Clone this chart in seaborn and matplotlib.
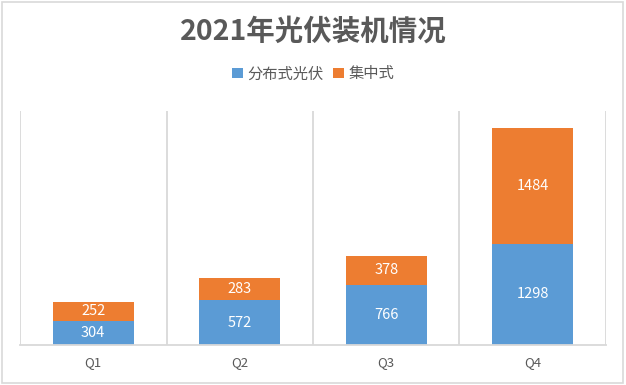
import matplotlib
matplotlib.use("Agg")
import matplotlib.pyplot as plt
import seaborn as sns
import pandas as pd
from matplotlib.patches import Rectangle

quarters = ["Q1", "Q2", "Q3", "Q4"]
distributed = [304, 572, 766, 1298]
centralized = [252, 283, 378, 1484]
series_names = ["分布式光伏", "集中式"]
title = "2021年光伏装机情况"

sns.set_theme(style="white")
plt.rcParams['font.family'] = ['Noto Sans CJK SC', 'DejaVu Sans']

blue = "#5B9BD5"
orange = "#ED7D31"
grid_c = "#D9D9D9"
text_c = "#595959"

df = pd.DataFrame({"q": quarters, "d": distributed, "c": centralized})
df["total"] = df["d"] + df["c"]

fig = plt.figure(figsize=(6.26, 3.85), dpi=100)
ax = fig.add_axes([0.032, 0.104, 0.936, 0.608])

sns.barplot(data=df, x="q", y="total", color=orange, width=0.55, ax=ax,
            saturation=1, label=series_names[1], linewidth=0)
sns.barplot(data=df, x="q", y="d", color=blue, width=0.55, ax=ax,
            saturation=1, label=series_names[0], linewidth=0)

for i in range(len(quarters)):
    ax.text(i, distributed[i] / 2, str(distributed[i]), ha="center", va="center",
            color="white", fontsize=10.5)
    ax.text(i, distributed[i] + centralized[i] / 2, str(centralized[i]), ha="center",
            va="center", color="white", fontsize=10.5)

ax.set_xlim(-0.5, len(quarters) - 0.5)
ax.set_ylim(0, 3000)
ax.set_yticks([])
ax.set_xlabel("")
ax.set_ylabel("")
ax.set_xticks(range(len(quarters)))
ax.set_xticklabels(quarters, color=text_c, fontsize=9.5)
ax.tick_params(axis="x", length=0, pad=8)
for b in [i - 0.5 for i in range(len(quarters) + 1)]:
    ax.axvline(b, color=grid_c, lw=1.3, zorder=0)
for s in ["top", "left", "right"]:
    ax.spines[s].set_visible(False)
ax.spines["bottom"].set_color(grid_c)
ax.spines["bottom"].set_linewidth(1.3)

h, l = ax.get_legend_handles_labels()
order = [l.index(series_names[0]), l.index(series_names[1])]
fig.legend([h[i] for i in order], [l[i] for i in order], loc="center",
           bbox_to_anchor=(0.5, 0.808), ncol=2, frameon=False, fontsize=11,
           handlelength=0.7, handleheight=0.7, handletextpad=0.3, columnspacing=0.6,
           labelcolor=text_c)
if ax.get_legend():
    ax.get_legend().remove()

fig.text(0.5, 0.918, title, ha="center", va="center", fontsize=20.5,
         fontweight="bold", color=text_c)

fig.patches.append(Rectangle((0.003, 0.004), 0.992, 0.992, transform=fig.transFigure,
                             fill=False, edgecolor=grid_c, lw=1.2))

fig.savefig("out.png", dpi=100)
